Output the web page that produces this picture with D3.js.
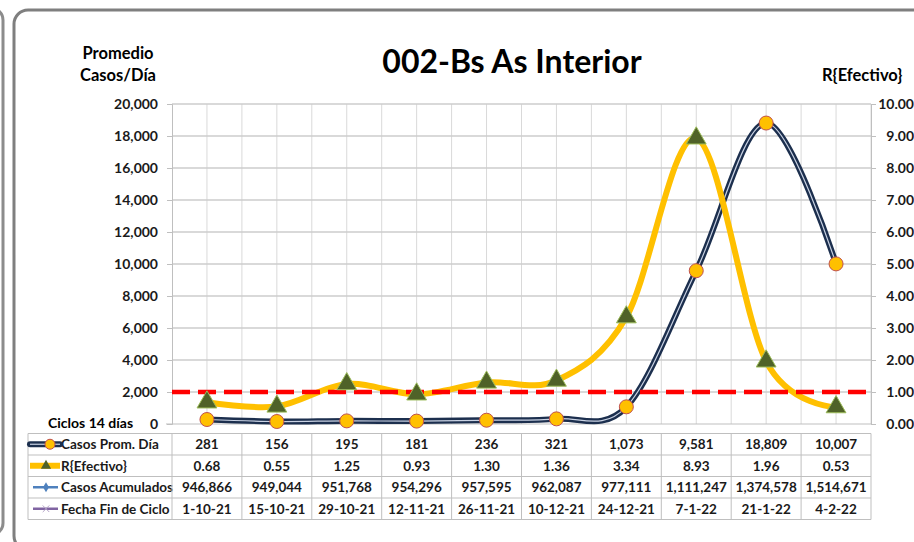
<!DOCTYPE html>
<html>
<head>
<meta charset="utf-8">
<script src="https://cdn.jsdelivr.net/npm/d3@7"></script>
<style>
  body { margin: 0; background: #fff; }
  svg { display: block; font-family: Lato, "Open Sans", sans-serif; font-weight: bold; }
</style>
</head>
<body>
<svg id="chart" width="914" height="542"></svg>
<script>
// data
const fechas = ["1-10-21", "15-10-21", "29-10-21", "12-11-21", "26-11-21", "10-12-21", "24-12-21", "7-1-22", "21-1-22", "4-2-22"];
const casosProm = [281, 156, 195, 181, 236, 321, 1073, 9581, 18809, 10007];
const rEfectivo = [0.68, 0.55, 1.25, 0.93, 1.30, 1.36, 3.34, 8.93, 1.96, 0.53];
const casosAcum = [946866, 949044, 951768, 954296, 957595, 962087, 977111, 1111247, 1374578, 1514671];
const leftTicks = d3.range(0, 20001, 2000);
const rightTicks = d3.range(0, 10.01, 1);
const umbralR = 1;

const plot = {left: 172, right: 871, top: 104, bottom: 424};
const tableLeft = 28, rowH = 21.5, tableTop = 433.5;

const svg = d3.select("#chart");

// frames
svg.append("rect").attr("x", -40).attr("y", 8).attr("width", 43).attr("height", 527)
  .attr("rx", 12).attr("fill", "none").attr("stroke", "#8c8c8c").attr("stroke-width", 3);
svg.append("rect").attr("x", 14).attr("y", 10).attr("width", 940).attr("height", 540)
  .attr("rx", 14).attr("fill", "#fff").attr("stroke", "#7f7f7f").attr("stroke-width", 3);

const x = d3.scaleBand().domain(fechas).range([plot.left, plot.right]);
const xc = d => x(d) + x.bandwidth() / 2;
const y = d3.scaleLinear().domain([0, 20000]).range([plot.bottom, plot.top]);
const yR = d3.scaleLinear().domain([0, 10]).range([plot.bottom, plot.top]);

// grid: vertical lines at band edges and centres
const vx = [];
fechas.forEach(d => { vx.push(x(d)); vx.push(xc(d)); });
vx.push(plot.right);
svg.append("g").selectAll("line").data(vx.slice(1)).join("line")
  .attr("x1", d => d).attr("x2", d => d).attr("y1", plot.top).attr("y2", plot.bottom)
  .attr("stroke", "#d9d9d9").attr("stroke-width", 1);
svg.append("g").selectAll("line").data(leftTicks.slice(1)).join("line")
  .attr("x1", plot.left).attr("x2", plot.right).attr("y1", d => y(d)).attr("y2", d => y(d))
  .attr("stroke", "#cccccc").attr("stroke-width", 1.3);

// axes
const axL = svg.append("g").attr("transform", `translate(${plot.left},0)`)
  .call(d3.axisLeft(y).tickValues(leftTicks).tickFormat(d3.format(",")).tickSize(5).tickPadding(9));
const axR = svg.append("g").attr("transform", `translate(${plot.right},0)`)
  .call(d3.axisRight(yR).tickValues(rightTicks).tickFormat(d3.format(".2f")).tickSize(5).tickPadding(6));
[axL, axR].forEach(a => {
  a.select(".domain").attr("stroke", "#bfbfbf");
  a.selectAll(".tick line").attr("stroke", "#bfbfbf");
  a.selectAll("text").attr("font-family", "Lato, sans-serif").attr("font-weight", "bold")
    .attr("font-size", 14).attr("fill", "#1a1a1a");
});
axL.select(".tick text").text("0");
axR.selectAll("text").attr("text-anchor", "end").attr("x", 914 - plot.right);
svg.append("line").attr("x1", plot.left - 6).attr("x2", plot.right).attr("y1", plot.bottom).attr("y2", plot.bottom)
  .attr("stroke", "#bfbfbf");

// titles
svg.append("text").attr("x", 512).attr("y", 73).attr("text-anchor", "middle")
  .attr("font-size", 32).attr("fill", "#000").text("002-Bs As Interior");
svg.append("text").attr("x", 118).attr("y", 59).attr("text-anchor", "middle")
  .attr("font-size", 16.5).text("Promedio");
svg.append("text").attr("x", 118).attr("y", 81).attr("text-anchor", "middle")
  .attr("font-size", 16.5).text("Casos/Día");
svg.append("text").attr("x", 822).attr("y", 81).attr("font-size", 16.5).text("R{Efectivo}");
svg.append("text").attr("x", 48).attr("y", 428).attr("font-size", 14).text("Ciclos 14 días");

// lines
const curve = d3.curveCardinal.tension(0);
const lineCasos = d3.line().x((d, i) => xc(fechas[i])).y(d => y(d)).curve(curve);
const lineR = d3.line().x((d, i) => xc(fechas[i])).y(d => yR(d)).curve(curve);

svg.append("path").attr("d", lineCasos(casosProm)).attr("fill", "none")
  .attr("stroke", "#1c2f4e").attr("stroke-width", 6);
svg.append("path").attr("d", lineCasos(casosProm)).attr("fill", "none")
  .attr("stroke", "#c9d2e3").attr("stroke-width", 1.2);
svg.append("path").attr("d", lineR(rEfectivo)).attr("fill", "none")
  .attr("stroke", "#ffc000").attr("stroke-width", 6);

// R = 1 threshold
svg.append("line").attr("x1", plot.left).attr("x2", plot.right)
  .attr("y1", yR(umbralR)).attr("y2", yR(umbralR))
  .attr("stroke", "#ff0000").attr("stroke-width", 4.5).attr("stroke-dasharray", "18,8");

// markers
const tri = d3.symbol().type(d3.symbolTriangle).size(170);
svg.append("g").selectAll("circle").data(casosProm).join("circle")
  .attr("cx", (d, i) => xc(fechas[i])).attr("cy", d => y(d)).attr("r", 7)
  .attr("fill", "#ffc000").attr("stroke", "#c0504d").attr("stroke-width", 1);
svg.append("g").selectAll("path").data(rEfectivo).join("path")
  .attr("d", tri)
  .attr("transform", (d, i) => `translate(${xc(fechas[i])},${yR(d)})`)
  .attr("fill", "#4f6228").attr("stroke", "#9bbb59").attr("stroke-width", 1);

// data table
const rows = [
  {label: "Casos Prom. Día", vals: casosProm.map(d3.format(","))},
  {label: "R{Efectivo}", vals: rEfectivo.map(d3.format(".2f"))},
  {label: "Casos Acumulados", vals: casosAcum.map(d3.format(","))},
  {label: "Fecha Fin de Ciclo", vals: fechas}
];
const tb = svg.append("g");
rows.forEach((r, ri) => {
  const yy = tableTop + ri * rowH;
  tb.append("line").attr("x1", tableLeft).attr("x2", plot.right).attr("y1", yy).attr("y2", yy)
    .attr("stroke", "#bfbfbf");
  tb.append("text").attr("x", 61).attr("y", yy + rowH / 2).attr("dy", "0.36em")
    .attr("font-size", 13.5).attr("fill", "#1a1a1a").text(r.label);
  tb.append("g").selectAll("text").data(r.vals).join("text")
    .attr("x", (d, i) => xc(fechas[i])).attr("y", yy + rowH / 2).attr("dy", "0.36em")
    .attr("text-anchor", "middle").attr("font-size", 13.5).attr("fill", "#1a1a1a").text(d => d);
});
const tableBottom = tableTop + rows.length * rowH;
tb.append("line").attr("x1", tableLeft).attr("x2", plot.right).attr("y1", tableBottom).attr("y2", tableBottom)
  .attr("stroke", "#bfbfbf");
tb.selectAll("line.v").data([tableLeft, plot.left, ...fechas.map(d => x(d) + x.bandwidth())]).join("line")
  .attr("class", "v").attr("x1", d => d).attr("x2", d => d).attr("y1", tableTop).attr("y2", tableBottom)
  .attr("stroke", "#bfbfbf");

// legend keys in the table
const ky = i => tableTop + i * rowH + rowH / 2;
tb.append("line").attr("x1", 30).attr("x2", 60).attr("y1", ky(0)).attr("y2", ky(0))
  .attr("stroke", "#1c2f4e").attr("stroke-width", 6).attr("stroke-linecap", "round");
tb.append("line").attr("x1", 30).attr("x2", 60).attr("y1", ky(0)).attr("y2", ky(0))
  .attr("stroke", "#c9d2e3").attr("stroke-width", 1.2);
tb.append("circle").attr("cx", 50).attr("cy", ky(0)).attr("r", 5)
  .attr("fill", "#ffc000").attr("stroke", "#c0504d");
tb.append("line").attr("x1", 30).attr("x2", 60).attr("y1", ky(1)).attr("y2", ky(1))
  .attr("stroke", "#ffc000").attr("stroke-width", 6);
tb.append("path").attr("d", d3.symbol().type(d3.symbolTriangle).size(45))
  .attr("transform", `translate(46,${ky(1)})`).attr("fill", "#4f6228");
tb.append("line").attr("x1", 33).attr("x2", 58).attr("y1", ky(2)).attr("y2", ky(2))
  .attr("stroke", "#4f81bd").attr("stroke-width", 2.5);
tb.append("path").attr("d", d3.symbol().type(d3.symbolDiamond).size(30))
  .attr("transform", `translate(46,${ky(2)})`).attr("fill", "#4f81bd");
tb.append("line").attr("x1", 33).attr("x2", 58).attr("y1", ky(3)).attr("y2", ky(3))
  .attr("stroke", "#8064a2").attr("stroke-width", 2.5);
tb.append("path").attr("d", d3.symbol().type(d3.symbolX).size(30))
  .attr("transform", `translate(46,${ky(3)})`).attr("fill", "none").attr("stroke", "#b3a2c7").attr("stroke-width", 1);
</script>
</body>
</html>
